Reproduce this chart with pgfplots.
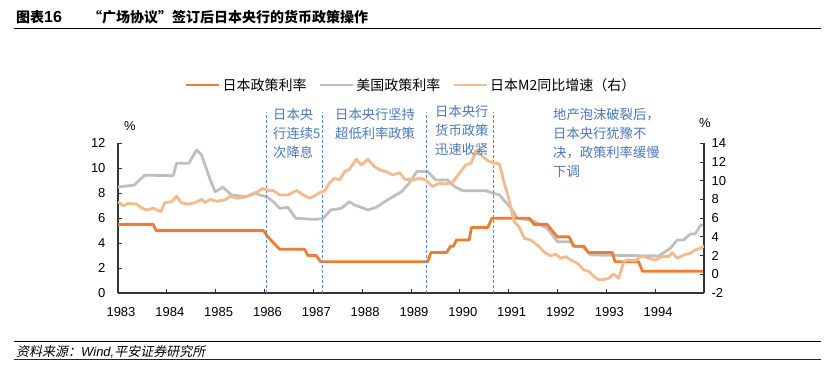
\documentclass[border=0pt]{standalone}
\usepackage{fontspec}
\setmainfont{Liberation Sans}
\newfontfamily\cjk{Noto Sans CJK SC}
\newfontfamily\cjkit[FakeSlant=0.2]{Noto Sans CJK SC}
\usepackage{pgfplots}
\pgfplotsset{compat=1.18}
\definecolor{jpor}{HTML}{ED7D31}
\definecolor{usgr}{HTML}{BFBFBF}
\definecolor{mtwo}{HTML}{F5B98E}
\definecolor{anblue}{HTML}{4A76B8}
\definecolor{dashblue}{HTML}{5B8BD0}
\pgfplotsset{
  common/.style={
    at={(118pt,-293pt)}, anchor=south west,
    width=586pt, height=149.7pt, scale only axis,
    xmin=1983, xmax=1995,
    tick align=inside, major tick length=4.5pt,
    tick style={black!80, line width=0.9pt},
    axis line style={black!80, line width=1.2pt},
    every tick label/.append style={font=\fontsize{13}{13}\selectfont},
  }
}
\begin{document}
\begin{tikzpicture}
\path[use as bounding box] (0,0) rectangle (835pt,-380pt);
% title
\node[anchor=west, inner sep=0pt] at (16pt,-17pt) {{\cjk\bfseries\fontsize{14}{14}\selectfont 图表}{\bfseries\fontsize{16}{16}\selectfont 16}};
\node[anchor=west, inner sep=0pt] at (88pt,-17pt) {\cjk\bfseries\fontsize{14}{14}\selectfont “广场协议”签订后日本央行的货币政策操作};
\draw[black, line width=1.6pt] (14pt,-28.5pt) -- (821pt,-28.5pt);
% source
\draw[black, line width=0.8pt] (14pt,-341pt) -- (821pt,-341pt);
\node[anchor=west, inner sep=0pt] at (16pt,-351.5pt) {\fontsize{13}{13}\selectfont{\cjkit 资料来源：}\textit{Wind,}{\cjkit 平安证券研究所}};
\draw[black!85, line width=1.6pt] (14pt,-359.5pt) -- (821pt,-359.5pt);

\begin{axis}[common,
  ymin=0, ymax=12,
  axis x line*=bottom, axis y line*=left,
  clip=false,
  ytick={0,2,4,6,8,10,12},
  yticklabels={0,2,4,6,8,10,12},
  yticklabel style={xshift=-9pt},
  xtick={1983,1984,1985,1986,1987,1988,1989,1990,1991,1992,1993,1994,1995},
  xticklabels={1983,1984,1985,1986,1987,1988,1989,1990,1991,1992,1993,1994,{}},
  xticklabel style={xshift=3pt, yshift=-11pt},
]
\addplot[usgr, line width=2.8pt, line join=round] coordinates {
(1983.00,8.5) (1983.33,8.65) (1983.55,9.45) (1984.13,9.4) (1984.20,10.4) (1984.45,10.4)
(1984.61,11.47) (1984.71,11.07) (1984.89,9.06) (1984.99,8.12) (1985.15,8.48) (1985.32,7.86)
(1985.63,7.72) (1985.80,8.04) (1985.90,7.86) (1986.04,7.72) (1986.18,7.32) (1986.31,6.79)
(1986.48,6.87) (1986.64,5.99) (1987.03,5.9) (1987.19,5.95) (1987.36,6.66) (1987.57,6.79)
(1987.74,7.32) (1987.84,7.06) (1988.12,6.66) (1988.29,6.87) (1988.46,7.32) (1988.63,7.72)
(1988.80,8.1) (1988.92,8.6) (1989.03,9.2) (1989.12,9.75) (1989.34,9.73) (1989.51,9.06)
(1989.75,9.06) (1989.89,8.53) (1990.06,8.2) (1990.53,8.2) (1990.68,8.0) (1990.81,7.86)
(1991.05,6.79) (1991.18,5.99) (1991.45,5.85) (1991.59,5.59) (1991.79,5.19) (1992.00,4.11)
(1992.27,4.11) (1992.37,3.71) (1992.52,3.71) (1992.68,3.05) (1994.07,2.97) (1994.31,3.58)
(1994.45,4.25) (1994.58,4.25) (1994.72,4.73) (1994.82,4.73) (1994.93,5.45) (1995.0,5.45)
};
\addplot[jpor, line width=2.8pt, line join=round] coordinates {
(1983.0,5.5) (1983.72,5.5) (1983.78,5.0) (1985.98,5.0) (1986.07,4.5) (1986.19,4.0) (1986.31,3.5)
(1986.82,3.5) (1986.89,3.0) (1987.06,3.0) (1987.15,2.5) (1989.34,2.5) (1989.41,3.25) (1989.73,3.25)
(1989.81,3.75) (1989.87,3.75) (1989.93,4.25) (1990.19,4.25) (1990.24,5.25) (1990.57,5.25)
(1990.66,6.0) (1991.42,6.0) (1991.52,5.5) (1991.79,5.5) (1991.89,5.0) (1992.0,4.5) (1992.24,4.5)
(1992.33,3.75) (1992.54,3.75) (1992.63,3.25) (1993.12,3.25) (1993.18,2.5) (1993.66,2.5)
(1993.74,1.75) (1995.0,1.75)
};
\addplot[dashblue, line width=0.9pt, dash pattern=on 3pt off 2pt] coordinates {(1986.03,0) (1986.03,14.5)};
\addplot[dashblue, line width=0.9pt, dash pattern=on 3pt off 2pt] coordinates {(1987.19,0) (1987.19,14.5)};
\addplot[dashblue, line width=0.9pt, dash pattern=on 3pt off 2pt] coordinates {(1989.32,0) (1989.32,14.5)};
\addplot[dashblue, line width=0.9pt, dash pattern=on 3pt off 2pt] coordinates {(1990.68,0) (1990.68,14.5)};
\end{axis}

\begin{axis}[common,
  ymin=-2, ymax=14,
  axis x line=none, axis y line*=right,
  ytick={-2,0,2,4,6,8,10,12,14},
  yticklabels={-2,0,2,4,6,8,10,12,14},
  yticklabel style={xshift=4pt},
  legend style={at={(0.5,1.389)}, anchor=center, draw=none, fill=none,
    legend columns=3, font=\cjk\fontsize{14}{14}\selectfont,
    /tikz/every even column/.append style={column sep=10pt}},
  legend image code/.code={\draw[#1] (0pt,0pt) -- (33pt,0pt);},
]
\addlegendimage{jpor, line width=2.8pt}
\addlegendentry{日本政策利率}
\addlegendimage{usgr, line width=2.8pt}
\addlegendentry{美国政策利率}
\addplot[mtwo, line width=2.8pt, line join=round] coordinates {
(1983.00,7.76) (1983.11,7.30) (1983.21,7.59) (1983.38,7.5) (1983.49,7.06) (1983.59,6.88)
(1983.72,7.06) (1983.88,6.7) (1983.96,7.66) (1984.10,7.76) (1984.20,8.37) (1984.29,7.66)
(1984.44,7.5) (1984.58,7.66) (1984.72,8.02) (1984.78,7.66) (1984.89,8.02) (1985.02,7.8)
(1985.19,7.95) (1985.32,8.37) (1985.43,8.13) (1985.56,8.2) (1985.73,8.48) (1985.87,8.84)
(1985.96,9.2) (1986.07,8.95) (1986.18,8.95) (1986.31,8.48) (1986.48,8.48) (1986.66,8.95)
(1986.79,8.48) (1986.93,8.13) (1987.0,8.3) (1987.13,8.73) (1987.23,8.91) (1987.33,9.73)
(1987.43,10.27) (1987.54,10.09) (1987.64,10.97) (1987.74,11.23) (1987.88,12.3) (1987.98,11.69)
(1988.12,12.3) (1988.25,11.51) (1988.36,11.16) (1988.49,10.97) (1988.63,10.62) (1988.77,10.87)
(1988.87,10.16) (1989.04,10.09) (1989.17,10.27) (1989.30,10.09) (1989.44,9.37) (1989.58,9.73)
(1989.72,9.66) (1989.85,9.8) (1989.99,10.8) (1990.12,11.69) (1990.23,11.87) (1990.33,13.22)
(1990.43,12.76) (1990.57,12.15) (1990.67,11.94) (1990.81,11.8) (1990.91,9.73) (1991.01,7.95)
(1991.11,5.63) (1991.21,5.09) (1991.32,3.85) (1991.45,3.67) (1991.59,3.13) (1991.72,2.42)
(1991.86,1.96) (1991.96,2.14) (1992.07,1.71) (1992.17,1.89) (1992.27,1.53) (1992.41,1.17)
(1992.54,0.46) (1992.65,0.28) (1992.75,-0.26) (1992.85,-0.61) (1992.95,-0.55) (1993.05,-0.43)
(1993.15,0.03) (1993.25,-0.43) (1993.36,1.35) (1993.42,1.53) (1993.59,1.46) (1993.73,1.96)
(1993.87,1.71) (1994.00,1.53) (1994.14,1.89) (1994.28,1.89) (1994.35,2.31) (1994.45,1.71)
(1994.59,2.07) (1994.72,2.24) (1994.82,2.6) (1994.93,2.78) (1995.00,3.03)
};
\addlegendentry{日本M2同比增速（右）}
\end{axis}

% percent labels
\node[inner sep=0pt, font=\fontsize{13}{13}\selectfont] at (130pt,-126pt) {\%};
\node[inner sep=0pt, font=\fontsize{13}{13}\selectfont] at (705pt,-123pt) {\%};
% annotations
\begin{scope}[every node/.style={anchor=north west, align=left, inner sep=0pt, text=anblue, font=\cjk\fontsize{13.3}{19}\selectfont}]
\node at (273pt,-108pt) {日本央\\行连续5\\次降息};
\node at (335pt,-108pt) {日本央行坚持\\超低利率政策};
\node at (435pt,-105pt) {日本央行\\货币政策\\迅速收紧};
\node at (553pt,-108pt) {地产泡沫破裂后，\\日本央行犹豫不\\决，政策利率缓慢\\下调};
\end{scope}
\end{tikzpicture}
\end{document}
